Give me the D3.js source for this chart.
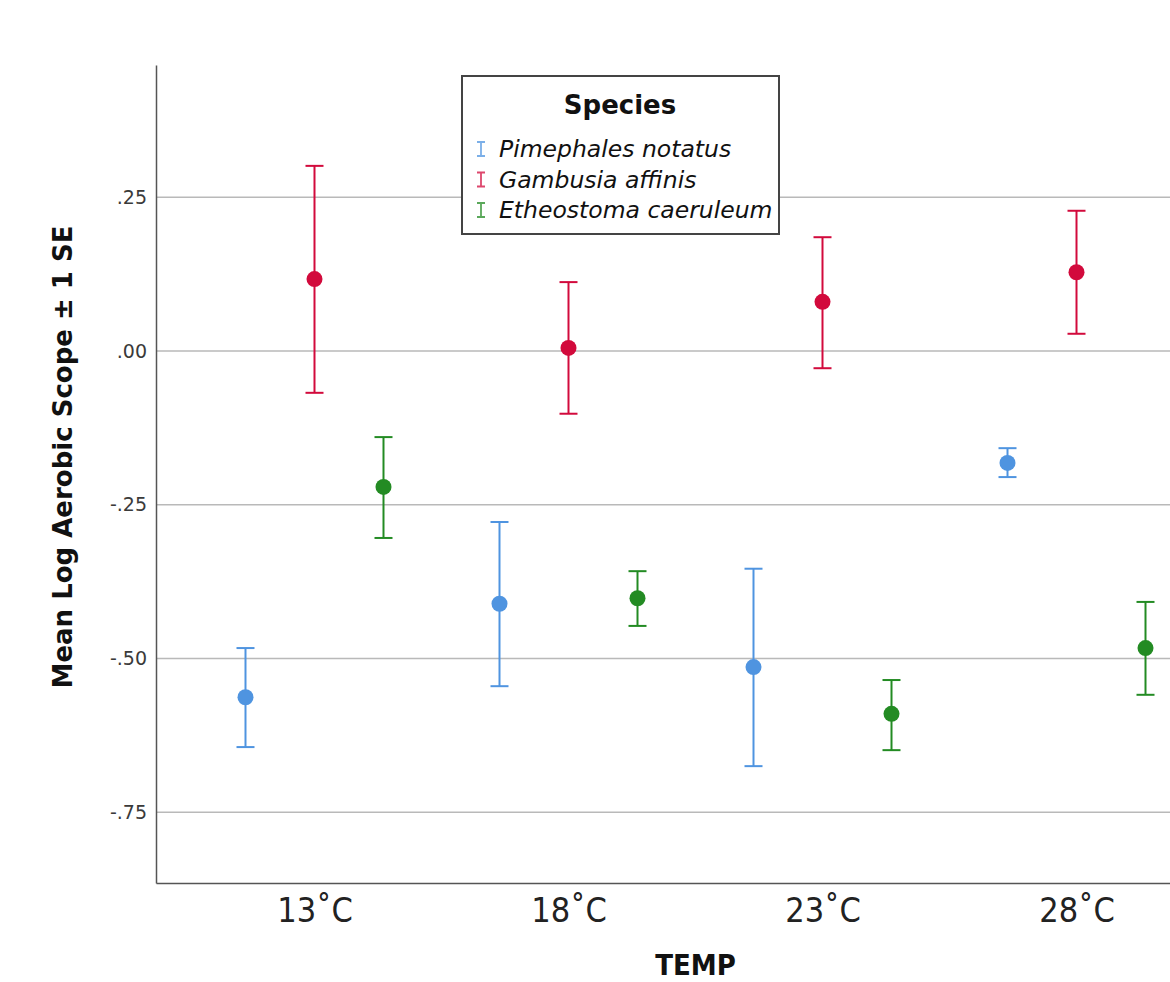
<!DOCTYPE html>
<html>
<head>
<meta charset="utf-8">
<script src="https://cdn.jsdelivr.net/npm/d3@7"></script>
<style>
  body { margin: 0; background: #fff; }
  svg { display: block; font-family: 'DejaVu Sans', sans-serif; }
</style>
</head>
<body>
<svg id="chart" width="1170" height="982"></svg>
<script>
'use strict';

// categories and series
var aTemps = ['13˚C', '18˚C', '23˚C', '28˚C'];
var aSpecies = ['Pimephales notatus', 'Gambusia affinis', 'Etheostoma caeruleum'];
var aColors = ['#4f94e0', '#d20a3c', '#238b23'];

// mean log aerobic scope per temperature
var aMeanPimephales = [-0.563, -0.411, -0.514, -0.182];
var aMeanGambusia   = [ 0.117,  0.005,  0.080,  0.128];
var aMeanEtheostoma = [-0.221, -0.402, -0.590, -0.483];

// mean + 1 SE
var aHiPimephales = [-0.483, -0.278, -0.354, -0.158];
var aHiGambusia   = [ 0.301,  0.112,  0.185,  0.228];
var aHiEtheostoma = [-0.140, -0.358, -0.535, -0.408];

// mean - 1 SE
var aLoPimephales = [-0.644, -0.545, -0.675, -0.205];
var aLoGambusia   = [-0.068, -0.102, -0.028,  0.028];
var aLoEtheostoma = [-0.304, -0.447, -0.649, -0.559];

var aYTicks = [0.25, 0, -0.25, -0.5, -0.75];

var aMeans = [aMeanPimephales, aMeanGambusia, aMeanEtheostoma];
var aHis = [aHiPimephales, aHiGambusia, aHiEtheostoma];
var aLos = [aLoPimephales, aLoGambusia, aLoEtheostoma];

var aPoints = [];
aSpecies.forEach(function(strSpecies, s)
{
	aTemps.forEach(function(strTemp, t)
	{
		aPoints.push({ species: strSpecies, idx: s, temp: strTemp, m: aMeans[s][t], hi: aHis[s][t], lo: aLos[s][t] });
	});
});

var sSvg = d3.select('#chart');

// plot runs past the right edge of the picture, as in the original crop
var rPlot = { left: 156, right: 1235, top: 65, bottom: 883 };

var scaleX = d3.scalePoint()
	.domain(aTemps)
	.range([rPlot.left, rPlot.right])
	.padding(0.624);

var scaleDodge = d3.scalePoint()
	.domain(aSpecies)
	.range([-69, 69]);

var scaleY = d3.scaleLinear()
	.domain([-0.865, 0.465])
	.range([rPlot.bottom, rPlot.top]);

var scaleColor = d3.scaleOrdinal().domain(aSpecies).range(aColors);

function FormatTick(v)
{
	// SPSS style: no leading zero, plain hyphen
	return d3.format('.2f')(v).replace('\u2212', '-').replace('0.', '.');
}

// gridlines
sSvg.append('g')
	.selectAll('line')
	.data(aYTicks)
	.enter()
		.append('line')
		.attr('x1', rPlot.left)
		.attr('x2', rPlot.right)
		.attr('y1', function(d) { return scaleY(d); })
		.attr('y2', function(d) { return scaleY(d); })
		.attr('stroke', '#b9b9b9')
		.attr('stroke-width', 1.5);

// y axis
var axisY = d3.axisLeft(scaleY).tickValues(aYTicks).tickSize(0).tickPadding(9).tickFormat(FormatTick);
var gY = sSvg.append('g')
	.attr('transform', 'translate(' + rPlot.left + ',0)')
	.call(axisY);
gY.select('.domain').attr('stroke', '#555').attr('stroke-width', 1.5);
gY.selectAll('text').attr('font-size', 19).attr('fill', '#3a3a3a').attr('font-family', "'DejaVu Sans', sans-serif");

// x axis
var axisX = d3.axisBottom(scaleX).tickSize(0).tickPadding(15);
var gX = sSvg.append('g')
	.attr('transform', 'translate(0,' + rPlot.bottom + ')')
	.call(axisX);
gX.select('.domain').attr('stroke', '#555').attr('stroke-width', 1.5);
gX.selectAll('text').attr('font-size', 34).attr('fill', '#222').attr('font-family', "'DejaVu Sans Condensed', 'DejaVu Sans', sans-serif");

// axis titles
sSvg.append('text')
	.attr('transform', 'translate(72,457) rotate(-90)')
	.attr('text-anchor', 'middle')
	.attr('font-size', 26)
	.attr('font-weight', 'bold')
	.attr('fill', '#111')
	.text('Mean Log Aerobic Scope ± 1 SE');

sSvg.append('text')
	.attr('x', (rPlot.left + rPlot.right) / 2)
	.attr('y', 975)
	.attr('text-anchor', 'middle')
	.attr('font-size', 29)
	.attr('font-weight', 'bold')
	.attr('font-family', "'DejaVu Sans Condensed', 'DejaVu Sans', sans-serif")
	.attr('fill', '#111')
	.text('TEMP');

// error bars
var nCap = 9;
var sBars = sSvg.append('g')
	.selectAll('g')
	.data(aPoints)
	.enter()
		.append('g')
		.attr('transform', function(d) { return 'translate(' + (scaleX(d.temp) + scaleDodge(d.species)) + ',0)'; })
		.attr('stroke', function(d) { return scaleColor(d.species); })
		.attr('stroke-width', 2);

sBars.append('line')
	.attr('y1', function(d) { return scaleY(d.hi); })
	.attr('y2', function(d) { return scaleY(d.lo); });
sBars.append('line')
	.attr('x1', -nCap).attr('x2', nCap)
	.attr('y1', function(d) { return scaleY(d.hi); })
	.attr('y2', function(d) { return scaleY(d.hi); });
sBars.append('line')
	.attr('x1', -nCap).attr('x2', nCap)
	.attr('y1', function(d) { return scaleY(d.lo); })
	.attr('y2', function(d) { return scaleY(d.lo); });
sBars.append('circle')
	.attr('cy', function(d) { return scaleY(d.m); })
	.attr('r', 8)
	.attr('stroke', 'none')
	.attr('fill', function(d) { return scaleColor(d.species); });

// legend
var sLegend = sSvg.append('g').attr('transform', 'translate(462,76)');
sLegend.append('rect')
	.attr('x', 0).attr('y', 0)
	.attr('width', 317).attr('height', 158)
	.attr('fill', '#fff')
	.attr('stroke', '#444')
	.attr('stroke-width', 2);
sLegend.append('text')
	.attr('x', 158).attr('y', 38)
	.attr('text-anchor', 'middle')
	.attr('font-size', 26)
	.attr('font-weight', 'bold')
	.attr('fill', '#111')
	.text('Species');

var sItems = sLegend.selectAll('.item')
	.data(aSpecies)
	.enter()
		.append('g')
		.attr('class', 'item')
		.attr('transform', function(d, i) { return 'translate(0,' + (73 + i * 30.5) + ')'; });
sItems.append('path')
	.attr('d', 'M15,-7H23M19,-7V7M15,7H23')
	.attr('fill', 'none')
	.attr('stroke', function(d) { return scaleColor(d); })
	.attr('stroke-opacity', 0.75)
	.attr('stroke-width', 1.8);
sItems.append('text')
	.attr('x', 37)
	.attr('y', 8)
	.attr('font-size', 23.5)
	.attr('font-style', 'italic')
	.attr('fill', '#111')
	.text(function(d) { return d; });
</script>
</body>
</html>
